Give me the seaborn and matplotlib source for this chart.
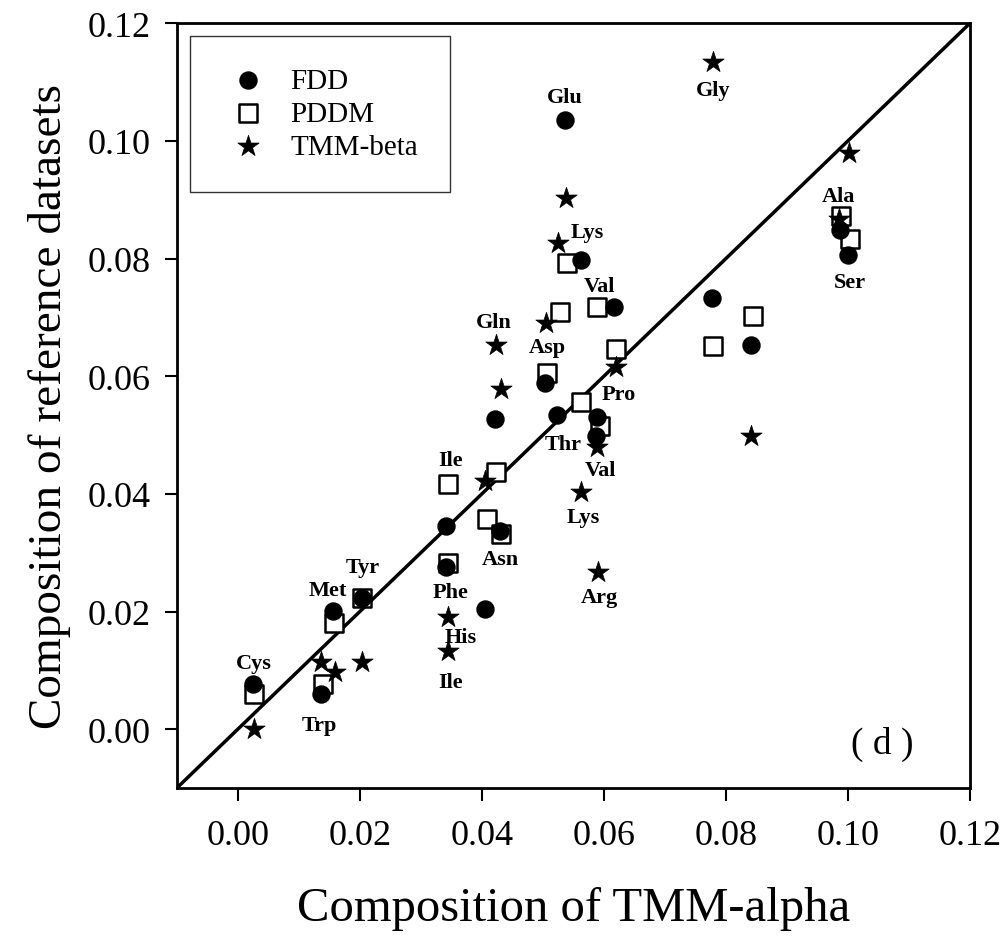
import numpy as np
import pandas as pd
import seaborn as sns
import matplotlib.pyplot as plt

# composition values (x = TMM-alpha, y = reference dataset)
fdd_x = [0.0024, 0.0136, 0.0156, 0.0203, 0.0342, 0.0342, 0.0405, 0.0430, 0.0421, 0.0524,
         0.0588, 0.0587, 0.0503, 0.0617, 0.0562, 0.0536, 0.0778, 0.0841, 0.0987, 0.1001]
fdd_y = [0.0076, 0.0059, 0.0201, 0.0223, 0.0276, 0.0346, 0.0205, 0.0337, 0.0527, 0.0534,
         0.0530, 0.0498, 0.0589, 0.0718, 0.0797, 0.1035, 0.0733, 0.0653, 0.0848, 0.0807]

pddm_x = [0.0026, 0.0139, 0.0158, 0.0204, 0.0345, 0.0345, 0.0424, 0.0408, 0.0432, 0.0563,
          0.0593, 0.0506, 0.0620, 0.0528, 0.0588, 0.0539, 0.0844, 0.0779, 0.0989, 0.1003]
pddm_y = [0.0059, 0.0076, 0.0181, 0.0223, 0.0282, 0.0416, 0.0437, 0.0357, 0.0331, 0.0556,
          0.0515, 0.0606, 0.0646, 0.0709, 0.0718, 0.0793, 0.0703, 0.0651, 0.0872, 0.0833]

beta_x = [0.0026, 0.0137, 0.0159, 0.0203, 0.0345, 0.0345, 0.0405, 0.0563, 0.0590, 0.0588,
          0.0431, 0.0620, 0.0423, 0.0505, 0.0525, 0.0538, 0.0779, 0.1002, 0.0986, 0.0842]
beta_y = [0.0000, 0.0114, 0.0097, 0.0114, 0.0190, 0.0133, 0.0422, 0.0403, 0.0268, 0.0479,
          0.0578, 0.0616, 0.0653, 0.0691, 0.0827, 0.0903, 0.1134, 0.0980, 0.0868, 0.0498]

# amino-acid annotations
aa_names = ["Glu", "Gly", "Lys", "Ala", "Ser", "Val", "Gln", "Asp", "Pro", "Thr", "Ile",
            "Val", "Lys", "Asn", "Tyr", "Met", "Phe", "Arg", "His", "Cys", "Ile", "Trp"]
aa_x = [0.0536, 0.0779, 0.0572, 0.0984, 0.1003, 0.0593, 0.0420, 0.0507, 0.0625, 0.0533, 0.0348,
        0.0595, 0.0566, 0.0431, 0.0205, 0.0148, 0.0348, 0.0592, 0.0366, 0.0026, 0.0348, 0.0134]
aa_y = [0.1074, 0.1086, 0.0845, 0.0906, 0.0760, 0.0753, 0.0692, 0.0649, 0.0569, 0.0484, 0.0457,
        0.0440, 0.0360, 0.0289, 0.0275, 0.0236, 0.0233, 0.0224, 0.0156, 0.0112, 0.0080, 0.0007]

ticks = [0.00, 0.02, 0.04, 0.06, 0.08, 0.10, 0.12]

sns.set_style("ticks")
plt.rcParams['font.family'] = ['Liberation Serif', 'DejaVu Serif']
plt.rcParams['text.color'] = 'black'
plt.rcParams['axes.labelcolor'] = 'black'
plt.rcParams['xtick.color'] = 'black'
plt.rcParams['ytick.color'] = 'black'

fig = plt.figure(figsize=(10.05, 9.37), dpi=100)
ax = fig.add_axes([0.176, 0.158, 0.789, 0.816])

ax.plot([-0.01, 0.12], [-0.01, 0.12], color='black', lw=2.5, zorder=1)

sns.scatterplot(x=fdd_x, y=fdd_y, ax=ax, marker='o', s=150, color='black',
                edgecolor='black', linewidth=1, label='FDD', zorder=3)
sns.scatterplot(x=pddm_x, y=pddm_y, ax=ax, marker='s', s=150, facecolor='white',
                edgecolor='black', linewidth=1.8, label='PDDM', zorder=2)
sns.scatterplot(x=beta_x, y=beta_y, ax=ax, marker='*', s=260, color='black',
                edgecolor='black', linewidth=0.5, label='TMM-beta', zorder=4)

for name, tx, ty in zip(aa_names, aa_x, aa_y):
    ax.text(tx, ty, name, ha='center', va='center', fontsize=16, fontweight='bold', zorder=5)

ax.text(0.1056, -0.0025, '( d )', ha='center', va='center', fontsize=27)

ax.set_xlim(-0.01, 0.12)
ax.set_ylim(-0.01, 0.12)
ax.set_xticks(ticks)
ax.set_yticks(ticks)
ax.set_xticklabels([f"{t:.2f}" for t in ticks])
ax.set_yticklabels([f"{t:.2f}" for t in ticks])
ax.tick_params(axis='both', direction='out', length=9, width=1.5, labelsize=26, pad=10)
ax.tick_params(axis='x', pad=13)
for sp in ax.spines.values():
    sp.set_linewidth(2)
    sp.set_color('black')

ax.set_xlabel('Composition of TMM-alpha', fontsize=35, labelpad=25)
ax.set_ylabel('Composition of reference datasets', fontsize=34, labelpad=12)

leg = ax.legend(loc='upper left', bbox_to_anchor=(0.016, 0.984), borderaxespad=0,
                fontsize=21, frameon=True, fancybox=False, borderpad=1.1,
                labelspacing=0.22, handletextpad=0.55, handlelength=1.8)
leg.get_frame().set_edgecolor('black')
leg.get_frame().set_linewidth(1.0)

fig.savefig('out.png', dpi=100)
